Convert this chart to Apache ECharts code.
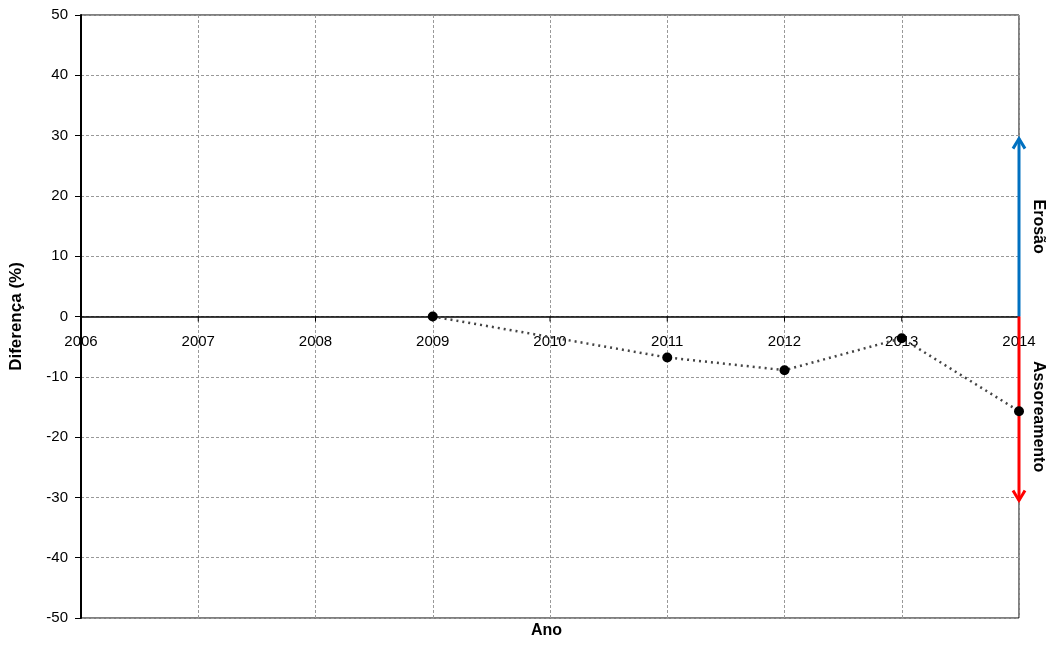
<!DOCTYPE html>
<html>
<head>
<meta charset="utf-8">
<script src="https://cdn.jsdelivr.net/npm/echarts@6/dist/echarts.min.js"></script>
<style>html,body{margin:0;padding:0;background:#fff}#c{width:1055px;height:648px}</style>
</head>
<body>
<div id="c"></div>
<script>
var years = [2009, 2011, 2012, 2013, 2014];
var diffs = [0, -6.8, -8.9, -3.6, -15.7];
var xTicks = [2006, 2007, 2008, 2009, 2010, 2011, 2012, 2013, 2014];
var yTicks = [-50, -40, -30, -20, -10, 0, 10, 20, 30, 40, 50];
var arrowYear = 2014;
var arrowEnds = [29.5, -30.5];
var arrowColors = ['#0070c0', '#ff0000'];
var arrowLabels = ['Erosão', 'Assoreamento'];
var labelCenters = [14.9, -16.6];

var FONT = '"Liberation Sans", Arial, sans-serif';
var chart = echarts.init(document.getElementById('c'));
chart.setOption({
  animation: false,
  grid: { left: 81, right: 36, top: 15, bottom: 30, outerBoundsMode: 'none', containLabel: false, show: true, borderColor: '#000', borderWidth: 1, backgroundColor: 'transparent' },
  xAxis: {
    type: 'value', min: xTicks[0], max: xTicks[xTicks.length - 1], interval: 1,
    axisLine: { onZero: true, lineStyle: { color: '#000', width: 1.5 } },
    axisTick: { show: false },
    axisLabel: { show: false },
    splitLine: { show: true, lineStyle: { color: '#999', type: [3, 2], width: 1 } }
  },
  yAxis: {
    type: 'value', min: yTicks[0], max: yTicks[yTicks.length - 1], interval: 10,
    name: 'Diferença (%)', nameLocation: 'middle', nameGap: 56, nameRotate: 90,
    nameTextStyle: { fontFamily: FONT, fontWeight: 'bold', fontSize: 17, color: '#000' },
    axisLine: { show: true, lineStyle: { color: '#000', width: 2 } },
    axisTick: { show: true, length: 6, lineStyle: { color: '#000' } },
    axisLabel: { fontFamily: FONT, fontSize: 15, color: '#000', margin: 13 },
    splitLine: { show: true, lineStyle: { color: '#999', type: [3, 2], width: 1 } }
  },
  graphic: [{
    type: 'text', left: 531, top: 623,
    style: { text: 'Ano', fontFamily: FONT, fontWeight: 'bold', fontSize: 16, fill: '#000' }
  }],
  series: [
    {
      type: 'custom',
      data: xTicks.map(function (t) { return [t, 0]; }),
      z: 2,
      renderItem: function (params, api) {
        var p = api.coord([api.value(0), 0]);
        return {
          type: 'group',
          children: [
            { type: 'line', shape: { x1: p[0], y1: p[1], x2: p[0], y2: p[1] + 5 }, style: { stroke: '#000', lineWidth: 1 } },
            { type: 'text', x: p[0], y: p[1] + 25,
              style: { text: String(api.value(0)), fontFamily: FONT, fontSize: 15, fill: '#000', align: 'center', verticalAlign: 'middle' } }
          ]
        };
      }
    },
    {
      type: 'custom',
      data: arrowEnds.map(function (e, i) { return [arrowYear, e, i]; }),
      z: 3,
      renderItem: function (params, api) {
        var i = api.value(2);
        var base = api.coord([arrowYear, 0]);
        var tip = api.coord([arrowYear, api.value(1)]);
        var dir = tip[1] < base[1] ? 1 : -1;
        var col = arrowColors[i];
        var lc = api.coord([arrowYear, labelCenters[i]]);
        return {
          type: 'group',
          children: [
            { type: 'line', shape: { x1: base[0], y1: base[1], x2: tip[0], y2: tip[1] }, style: { stroke: col, lineWidth: 3 } },
            { type: 'polyline', shape: { points: [[tip[0] - 6, tip[1] + dir * 10], [tip[0], tip[1]], [tip[0] + 6, tip[1] + dir * 10]] }, style: { stroke: col, lineWidth: 3, fill: null } },
            { type: 'text', x: lc[0] + 19, y: lc[1], rotation: -Math.PI / 2,
              style: { text: arrowLabels[i], fontFamily: FONT, fontWeight: 'bold', fontSize: 16, fill: '#000', align: 'center', verticalAlign: 'middle' } }
          ]
        };
      }
    },
    {
      type: 'line',
      data: years.map(function (y, i) { return [y, diffs[i]]; }),
      z: 4,
      symbol: 'circle', symbolSize: 10,
      itemStyle: { color: '#000' },
      lineStyle: { color: '#444', width: 2.5, type: [2, 4] }
    }
  ]
});
</script>
</body>
</html>
